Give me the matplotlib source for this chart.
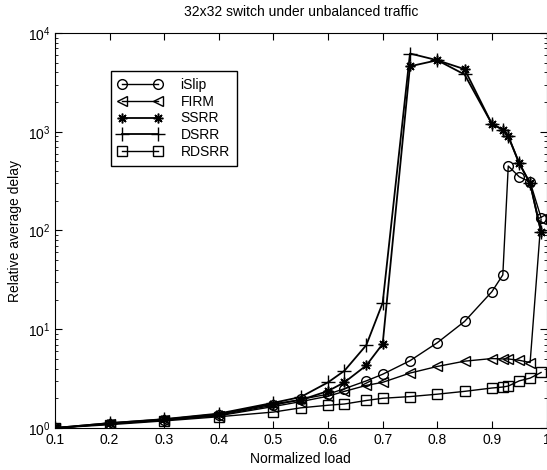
import numpy as np
import matplotlib
matplotlib.use('Agg')
import matplotlib.pyplot as plt
from matplotlib.ticker import LogLocator, FixedLocator, NullFormatter

plt.rcParams['font.family'] = ['Liberation Sans', 'DejaVu Sans']

# load points
load = [0.1, 0.2, 0.3, 0.4, 0.5, 0.55, 0.6, 0.63, 0.67, 0.7, 0.75, 0.8,
        0.85, 0.9, 0.92, 0.93, 0.95, 0.97, 0.99]

islip = [1.0, 1.1, 1.2, 1.35, 1.7, 1.95, 2.2, 2.5, 3.0, 3.5, 4.8, 7.3,
         12.0, 24.0, 35.5, 450, 350, 310, 135]
firm = [1.0, 1.1, 1.2, 1.33, 1.65, 1.85, 2.1, 2.35, 2.7, 2.9, 3.6, 4.2,
        4.75, 5.05, 5.0, 5.0, 4.85, 4.6, 130]
ssrr = [1.0, 1.12, 1.22, 1.38, 1.75, 1.92, 2.37, 2.9, 4.3, 7.1, 4600, 5300,
        4300, 1200, 1050, 900, 480, 300, 97]
dsrr = [1.0, 1.12, 1.23, 1.4, 1.8, 2.06, 2.9, 3.8, 6.9, 18.5, 6200, 5300,
        3800, 1200, 1050, 900, 480, 300, 97]
rdsrr = [1.0, 1.08, 1.18, 1.3, 1.45, 1.6, 1.7, 1.75, 1.9, 2.0, 2.08, 2.2,
         2.35, 2.54, 2.6, 2.66, 3.0, 3.2, 3.65]

fig = plt.figure(figsize=(5.47, 4.70), dpi=100)
ax = fig.add_axes([55/547, 42/470, 491.5/547, 395/470])

ax.plot(load, islip, 'k-o', mfc='none', ms=7, lw=1, label='iSlip')
ax.plot(load, firm, 'k-<', mfc='none', ms=7, lw=1, label='FIRM')
# matlab style asterisk: 8 arms
ax.plot(load, ssrr, 'k-', marker=(8, 2, 0), ms=7, mew=1.1, lw=1.3, label='SSRR')
ax.plot(load, dsrr, 'k-+', ms=10, lw=1.3, mew=1, label='DSRR')
ax.plot(load, rdsrr, 'k-s', mfc='none', ms=7, lw=1, label='RDSRR')

ax.set_yscale('log')
ax.set_xlim(0.1, 1.0)
ax.set_ylim(1, 1e4)
ax.xaxis.set_major_locator(FixedLocator(np.arange(0.1, 1.01, 0.1)))
ax.set_xticklabels(['0.1', '0.2', '0.3', '0.4', '0.5', '0.6', '0.7', '0.8', '0.9', '1'])
ax.yaxis.set_major_locator(LogLocator(base=10, numticks=10))
ax.yaxis.set_minor_locator(LogLocator(base=10, subs=np.arange(2, 10), numticks=20))
ax.yaxis.set_minor_formatter(NullFormatter())
ax.tick_params(which='both', direction='in', top=True, right=True, labelsize=10)
ax.tick_params(which='major', length=5)
ax.tick_params(which='minor', length=2.5)

ax.set_xlabel('Normalized load', fontsize=10)
ax.set_ylabel('Relative average delay', fontsize=10)
ax.set_title('32x32 switch under unbalanced traffic', fontsize=10, pad=12)

leg = ax.legend(loc='upper left', bbox_to_anchor=(0.114, 0.904), borderaxespad=0,
                numpoints=2, handlelength=3.2, handletextpad=1.3,
                labelspacing=0.2, fontsize=10, borderpad=0.5,
                fancybox=False, framealpha=1, edgecolor='black')
leg.get_frame().set_linewidth(1)

fig.savefig('out.png', dpi=100)
